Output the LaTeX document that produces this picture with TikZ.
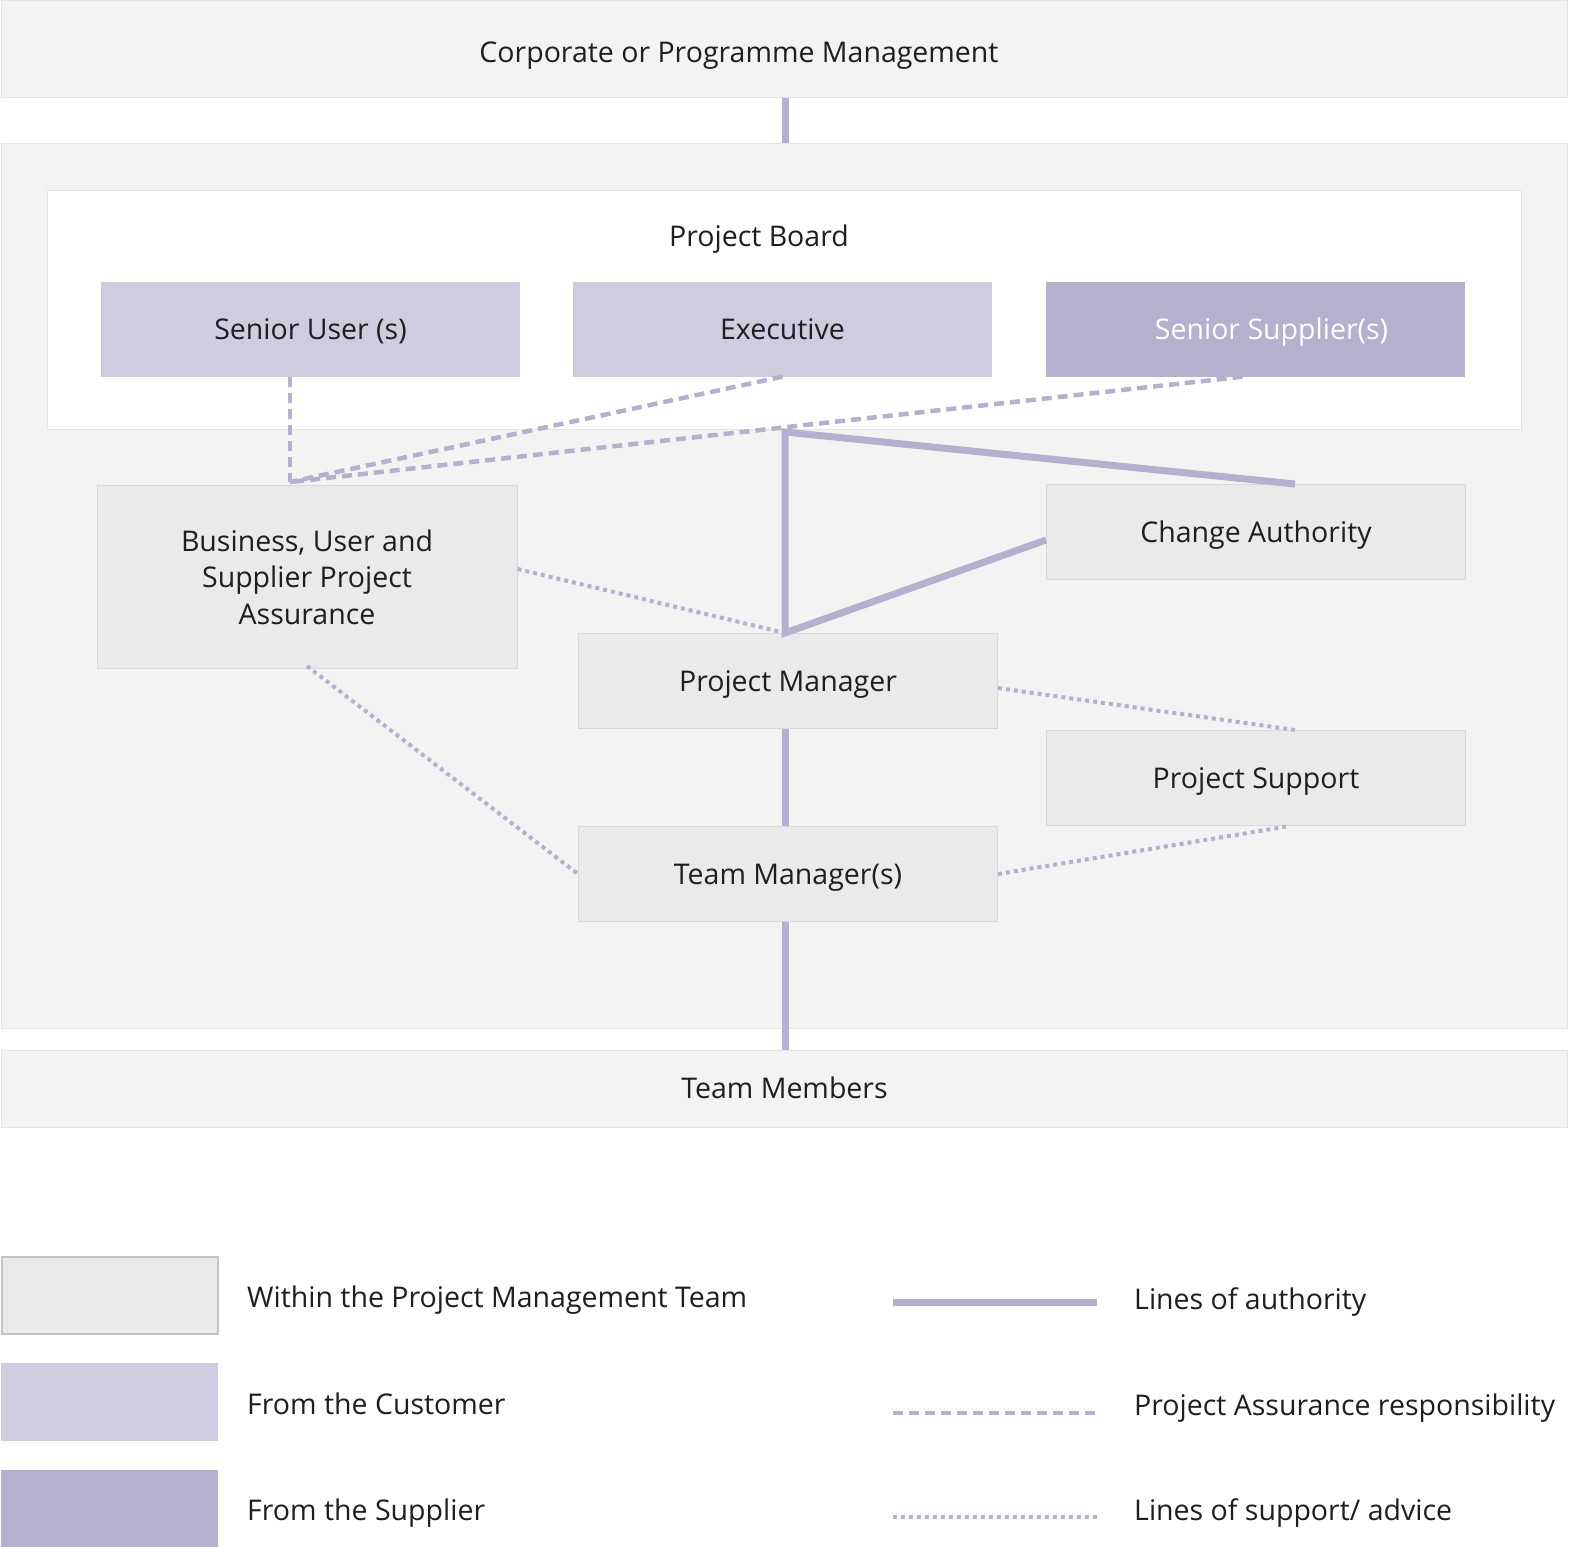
\documentclass[tikz,border=0pt]{standalone}
\usepackage{fontspec}
\setmainfont{Open Sans}
\usetikzlibrary{calc}
\definecolor{panelgray}{HTML}{F3F3F3}
\definecolor{teamgray}{HTML}{EAEAEA}
\definecolor{edgegray}{HTML}{D9D9D9}
\definecolor{custlilac}{HTML}{CFCCE0}
\definecolor{supplilac}{HTML}{B4B1CF}
\definecolor{textgray}{HTML}{1E1E1E}
\tikzset{
  txt/.style={font=\fontsize{28.5}{36.5}\selectfont, text=textgray, inner sep=0pt, text height=20pt, text depth=0pt},
  box/.style={rectangle, txt, minimum width=419pt, minimum height=95pt, align=center},
  teambox/.style={box, fill=teamgray, draw=edgegray, line width=1pt},
  custbox/.style={box, fill=custlilac},
  suppbox/.style={box, fill=supplilac, text=white},
  band/.style={rectangle, txt, fill=panelgray, draw=edgegray!70, line width=1pt},
  auth/.style={supplilac, line width=7pt},
  assure/.style={supplilac, line width=4.5pt, dash pattern=on 10pt off 6pt},
  support/.style={supplilac, line width=4pt, dash pattern=on 4pt off 4pt},
}
\begin{document}
\begin{tikzpicture}[x=1pt, y=-1pt]
\useasboundingbox (0,0) rectangle (1569,1547);
% bands
\node[band, minimum width=1566pt, minimum height=97pt] (corp) at (784.5,49) {};
\node[txt] (corptitle) at (739,52) {Corporate or Programme Management};
\node[band, minimum width=1566pt, minimum height=885pt] (panel) at (784.5,585.5) {};
\node[band, fill=white, minimum width=1474pt, minimum height=239pt] (board) at (784,309.5) {};
\node[txt] (boardtitle) at (759,236) {Project Board};
\node[band, minimum width=1566pt, minimum height=77pt] (members) at (784.5,1088.5) {Team Members};
% board members
\node[custbox] (su) at (310.5,329) {Senior User (s)};
\node[custbox] (ex) at (782.5,329) {Executive};
\node[suppbox] (ss) at (1255.5,329) {\hspace*{32pt}Senior Supplier(s)};
% team
\node[teambox, text height={}, text depth={}, minimum width=420pt, minimum height=183pt] (bua) at (307,577) {Business, User and\\Supplier Project\\Assurance};
\node[teambox] (ca) at (1256,532) {Change Authority};
\node[teambox] (pm) at (788,681) {Project Manager};
\node[teambox] (ps) at (1256,778) {Project Support};
\node[teambox] (tm) at (788,874) {Team Manager(s)};
\coordinate (apex) at (785,432);
\coordinate (hub) at (290,482);
% support / advice
\draw[support] ([yshift=8pt]bua.east) -- (pm.north -| apex);
\draw[support] ([yshift=3pt]bua.south) -- (tm.west);
\draw[support] ([yshift=-7pt]pm.east) -- ([xshift=39pt]ps.north);
\draw[support] (tm.east) -- ([xshift=34pt]ps.south);
% assurance
\draw[assure] (su.south -| hub) -- (hub);
\draw[assure] (ex.south) -- (hub);
\draw[assure] ([xshift=-13pt]ss.south) -- (hub);
% authority
\draw[auth] (corp.south -| apex) -- (panel.north -| apex);
\draw[auth, line join=miter] ([xshift=39pt]ca.north) -- (apex) -- (pm.north -| apex) -- ([yshift=-8pt]ca.west);
\draw[auth] (pm.south -| apex) -- (tm.north -| apex);
\draw[auth] (tm.south -| apex) -- (members.north -| apex);
% legend
\node[teambox, draw=edgegray!90!black, line width=2pt, minimum width=216pt, minimum height=77pt] (legteam) at (109.5,1295) {};
\node[custbox, minimum width=217pt, minimum height=78pt] (legcust) at (109.5,1402) {};
\node[suppbox, minimum width=217pt, minimum height=78pt] (legsupp) at (109.5,1508.5) {};
\node[txt, anchor=west] (lt1) at (247,1297) {Within the Project Management Team};
\node[txt, anchor=west] (lt2) at (247,1404) {From the Customer};
\node[txt, anchor=west] (lt3) at (247,1510) {From the Supplier};
\draw[auth] (893,1302) -- (1097,1302);
\draw[assure] (893,1413) -- (1097,1413);
\draw[support] (893,1517) -- (1097,1517);
\node[txt, anchor=west] (lt4) at (1134,1299) {Lines of authority};
\node[txt, anchor=west] (lt5) at (1134,1405) {Project Assurance responsibility};
\node[txt, anchor=west] (lt6) at (1134,1510) {Lines of support/ advice};
\end{tikzpicture}
\end{document}
